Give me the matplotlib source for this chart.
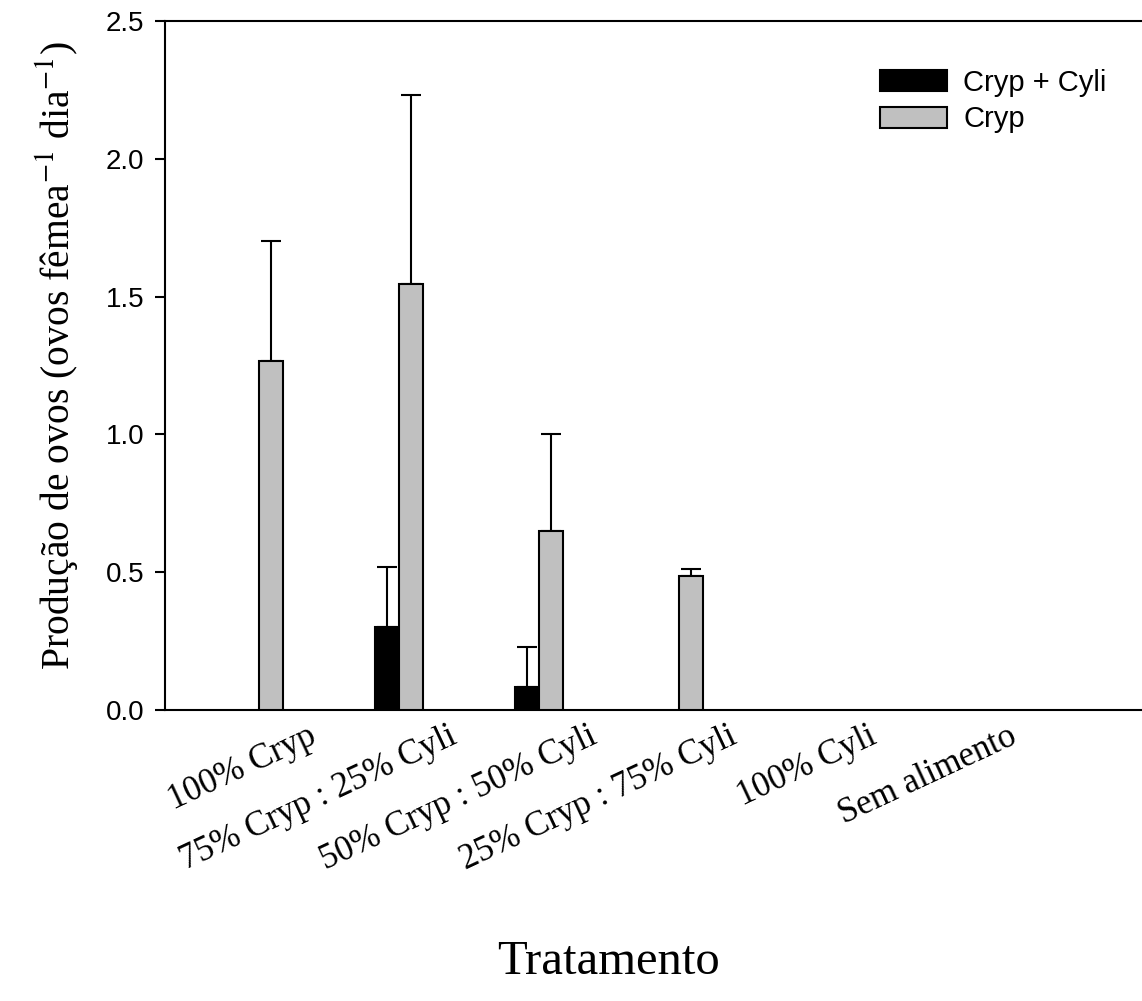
import matplotlib
matplotlib.use("Agg")
import matplotlib.pyplot as plt
import matplotlib.transforms as mtransforms
import numpy as np

# data
tratamentos = ["100% Cryp", "75% Cryp : 25% Cyli", "50% Cryp : 50% Cyli",
               "25% Cryp : 75% Cyli", "100% Cyli", "Sem alimento"]
cryp_cyli = [0.0, 0.30, 0.085, 0.0, 0.0, 0.0]
cryp_cyli_err = [0.0, 0.22, 0.145, 0.0, 0.0, 0.0]
cryp = [1.265, 1.545, 0.65, 0.485, 0.0, 0.0]
cryp_err = [0.435, 0.685, 0.35, 0.025, 0.0, 0.0]

plt.rcParams['mathtext.fontset'] = 'stix'

x = np.arange(len(tratamentos))
w = 0.172

fig = plt.figure(figsize=(11.42, 10.01), dpi=100)
ax = fig.add_axes([165/1142, 1 - 710/1001, (1142 - 165)/1142, (710 - 21)/1001])

# hide bars with zero height (no data) but keep them in the arrays
bk = [v if v > 0 else np.nan for v in cryp_cyli]
gr = [v if v > 0 else np.nan for v in cryp]
ax.bar(x - w/2, bk, w, color="black", edgecolor="black", linewidth=1.5,
       label="Cryp + Cyli", zorder=3)
ax.bar(x + w/2, gr, w, color="#c0c0c0", edgecolor="black", linewidth=1.5,
       label="Cryp", zorder=3)
ax.errorbar(x - w/2, bk, yerr=[np.zeros(len(x)), cryp_cyli_err], fmt="none",
            ecolor="black", elinewidth=1.5, capsize=7.5, capthick=1.5, zorder=2)
ax.errorbar(x + w/2, gr, yerr=[np.zeros(len(x)), cryp_err], fmt="none",
            ecolor="black", elinewidth=1.5, capsize=7.5, capthick=1.5, zorder=2)

ax.set_xlim(-0.67, 6.31)
ax.set_ylim(0, 2.5)
ax.set_yticks([0, 0.5, 1.0, 1.5, 2.0, 2.5])
ax.set_yticklabels(["0.0", "0.5", "1.0", "1.5", "2.0", "2.5"],
                   family="Liberation Sans", fontsize=20)
ax.tick_params(axis="y", direction="out", length=7, width=1.5, pad=8)
ax.spines["right"].set_visible(False)
for s in ["left", "top", "bottom"]:
    ax.spines[s].set_linewidth(1.5)

ax.set_xticks(x)
ax.tick_params(axis="x", length=0)
ax.set_xticklabels(tratamentos, rotation=25, ha="right", va="center",
                   rotation_mode="anchor", family="Liberation Serif", fontsize=25)
off = mtransforms.ScaledTranslation(0.56, -0.2, fig.dpi_scale_trans)
for lab in ax.get_xticklabels():
    lab.set_transform(lab.get_transform() + off)

ax.set_ylabel("Produção de ovos (ovos fêmea$^{-1}$ dia$^{-1}$)",
              family="Liberation Serif", fontsize=28.5)
ax.yaxis.set_label_coords(-0.087, 0.515)
fig.text(0.533, 1 - 962/1001, "Tratamento", family="Liberation Serif",
         fontsize=35, ha="center", va="center")

ax.legend(loc="upper left", bbox_to_anchor=(0.705, 0.969), frameon=False,
          prop={"family": "Liberation Sans", "size": 21},
          handlelength=2.3, handleheight=0.75, handletextpad=0.55,
          labelspacing=0.3)

plt.savefig("out.png", dpi=100)
